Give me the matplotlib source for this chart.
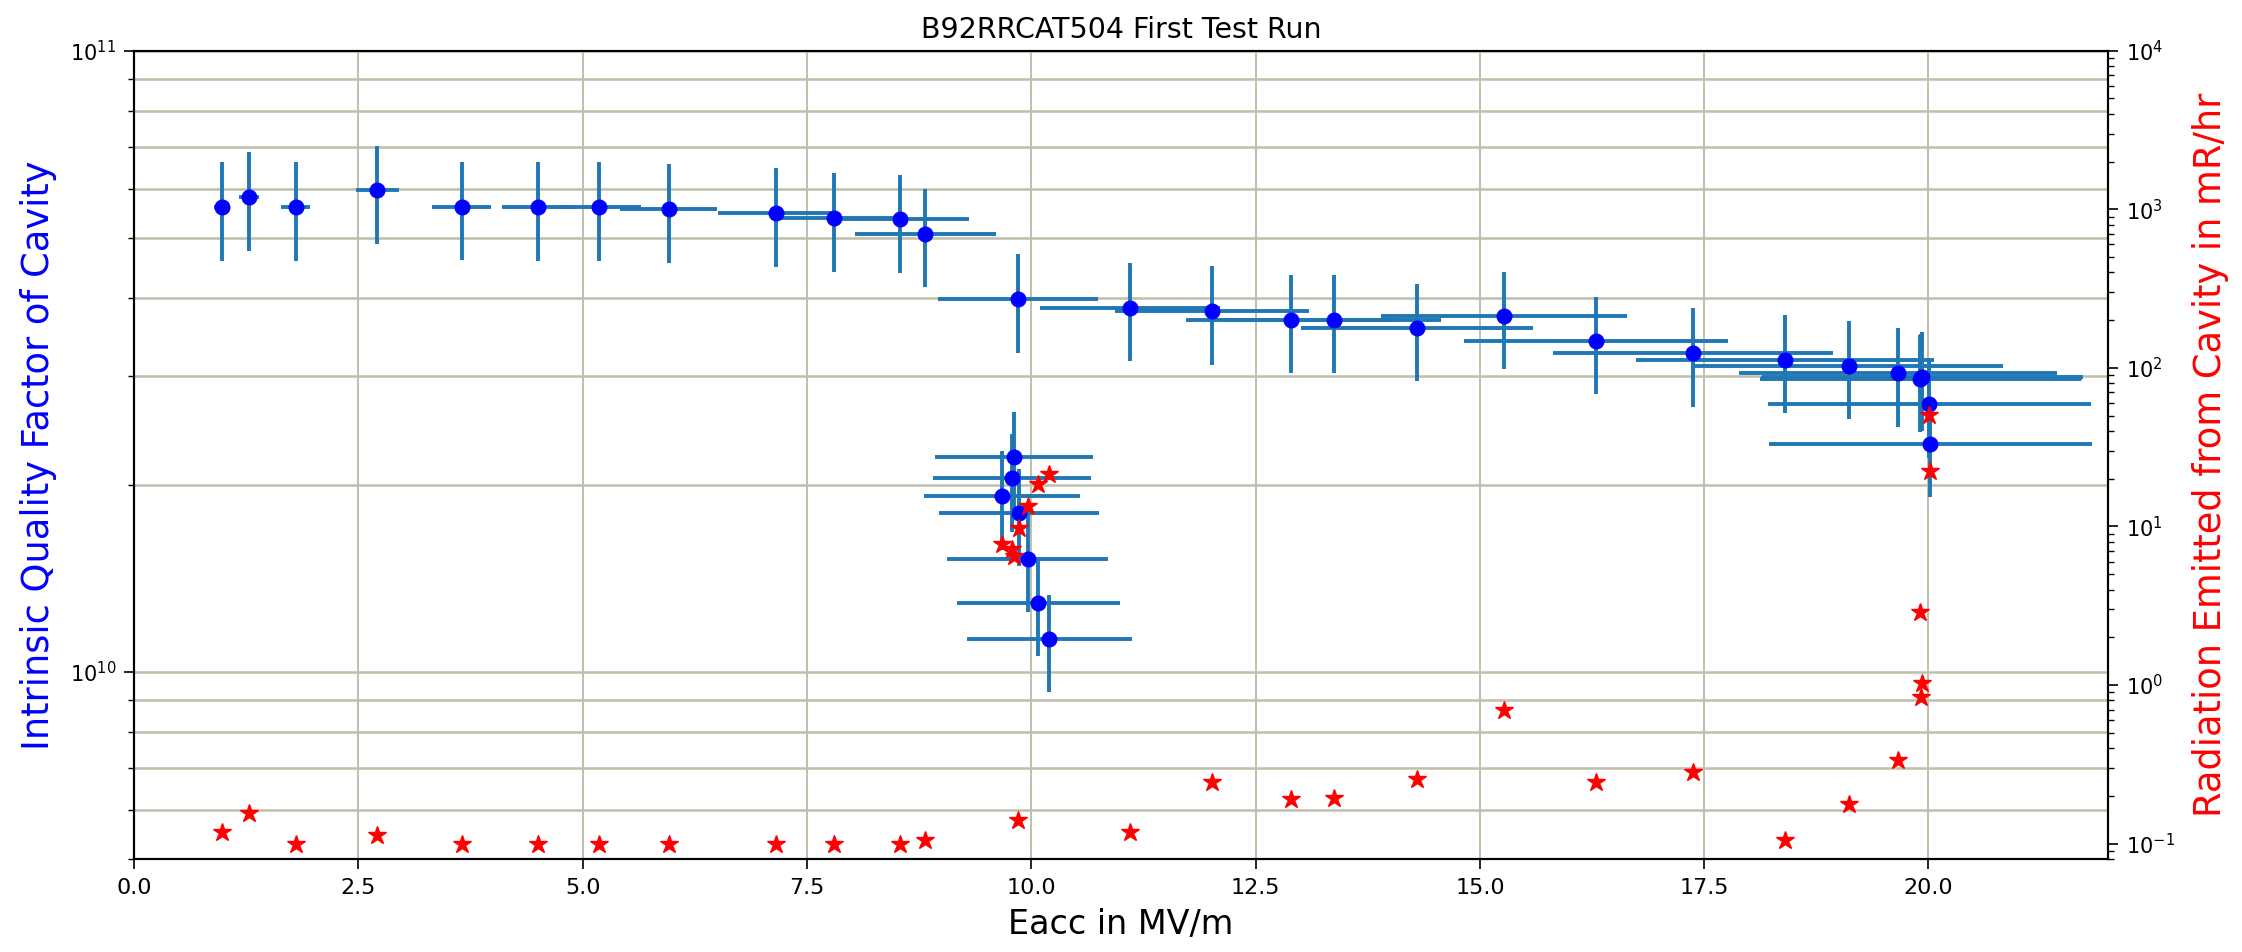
import matplotlib
matplotlib.use("Agg")
import matplotlib.pyplot as plt
import numpy as np

# Accelerating gradient (MV/m)
eacc = [0.98, 1.28, 1.80, 2.71, 3.65, 4.50, 5.18, 5.96, 7.15, 7.80, 8.54, 8.82,
        9.85, 11.10, 12.01, 12.89, 13.37, 14.30, 15.27, 16.29, 17.38, 18.40,
        19.11, 19.66, 19.92, 19.93, 19.91, 20.01, 20.02,
        9.81, 9.79, 9.67, 9.86, 9.96, 10.08, 10.20]
eacc_err = [0.09, 0.11, 0.16, 0.24, 0.33, 0.40, 0.47, 0.54, 0.64, 0.70, 0.77, 0.79,
            0.89, 1.00, 1.08, 1.16, 1.20, 1.29, 1.37, 1.47, 1.56, 1.66,
            1.72, 1.77, 1.79, 1.79, 1.79, 1.80, 1.80,
            0.88, 0.88, 0.87, 0.89, 0.90, 0.91, 0.92]
# Intrinsic quality factor (units of 1e10)
q0 = [5.60, 5.81, 5.60, 5.96, 5.61, 5.60, 5.60, 5.56, 5.48, 5.38, 5.35, 5.07,
      3.98, 3.86, 3.81, 3.69, 3.69, 3.58, 3.74, 3.41, 3.26, 3.18,
      3.11, 3.03, 2.97, 2.98, 2.96, 2.70, 2.33,
      2.22, 2.05, 1.92, 1.80, 1.52, 1.29, 1.13]
q0_err = [1.01, 1.05, 1.01, 1.07, 1.01, 1.01, 1.01, 1.00, 0.99, 0.97, 0.96, 0.91,
          0.72, 0.69, 0.69, 0.66, 0.66, 0.64, 0.67, 0.61, 0.59, 0.57,
          0.56, 0.55, 0.53, 0.54, 0.53, 0.49, 0.42,
          0.40, 0.37, 0.35, 0.32, 0.27, 0.23, 0.20]
# Radiation (mR/hr)
radiation = [0.119, 0.155, 0.100, 0.113, 0.100, 0.100, 0.100, 0.100, 0.100, 0.100, 0.100, 0.106,
             0.141, 0.119, 0.245, 0.190, 0.195, 0.254, 0.695, 0.245, 0.284, 0.106,
             0.179, 0.339, 0.843, 1.03, 2.90, 50.8, 22.5,
             6.5, 7.2, 7.7, 9.8, 13.4, 18.6, 21.5]

scale = 1e10
q_vals = np.array(q0) * scale
q_errs = np.array(q0_err) * scale

fig = plt.figure(figsize=(22.42, 9.52), dpi=100)
ax = fig.add_axes([0.0598, 0.0977, 0.8804, 0.849])

ax.errorbar(eacc, q_vals, xerr=eacc_err, yerr=q_errs, fmt='o', color='#0000ff',
            markersize=10.5, ecolor='#1f77b4', elinewidth=2.8, capsize=0, zorder=3)
ax.set_yscale('log')
ax.set_xlim(0, 22)
ax.set_ylim(5e9, 1e11)
ax.grid(True, which='both', axis='y', color='#bfbfaa', linewidth=1.8, zorder=0)
ax.grid(True, which='major', axis='x', color='#bfbfaa', linewidth=1.4, zorder=0)
ax.set_axisbelow(True)

ax.set_xlabel('Eacc in MV/m', fontsize=24, labelpad=7)
ax.set_ylabel('Intrinsic Quality Factor of Cavity', fontsize=26.5, color='blue', labelpad=9)
ax.set_title('B92RRCAT504 First Test Run', fontsize=20.5, pad=9)
ax.tick_params(axis='x', which='major', labelsize=16, length=7, width=1.2, pad=7)
ax.tick_params(axis='y', which='major', labelsize=15, length=7, width=1.2, pad=6)
ax.tick_params(axis='y', which='minor', length=4.5, width=1.0)

ax2 = ax.twinx()
ax2.plot(eacc, radiation, '*', color='red', markersize=13.5, linestyle='none')
ax2.set_yscale('log')
ax2.set_ylim(0.08, 1e4)
ax2.set_ylabel('Radiation Emitted from Cavity in mR/hr', fontsize=26.5, color='red', labelpad=12)
ax2.tick_params(axis='y', which='major', labelsize=15, length=7, width=1.2, pad=6)
ax2.tick_params(axis='y', which='minor', length=4.5, width=1.0)

for a in (ax, ax2):
    for s in a.spines.values():
        s.set_linewidth(1.5)

fig.savefig('out.png', dpi=100)
